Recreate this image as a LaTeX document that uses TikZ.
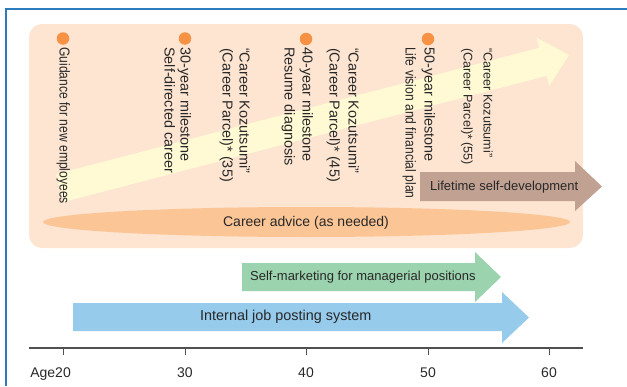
\documentclass[tikz,border=0pt]{standalone}
\usepackage{fontspec}
\setmainfont{Liberation Sans}
\newfontfamily\narrowfont{Liberation Sans}[FakeStretch=0.84]
\definecolor{framecol}{RGB}{44,124,188}
\definecolor{peach}{RGB}{253,229,210}
\definecolor{paleyellow}{RGB}{255,249,212}
\definecolor{dotorange}{RGB}{247,146,68}
\definecolor{ellorange}{RGB}{251,197,150}
\definecolor{taupe}{RGB}{192,161,146}
\definecolor{mint}{RGB}{155,211,174}
\definecolor{skyblue}{RGB}{150,203,236}
\definecolor{textgray}{RGB}{40,40,40}
\definecolor{axisgray}{RGB}{80,80,80}
\begin{document}
\begin{tikzpicture}[x=1pt,y=-1pt,
  txt/.style={inner sep=0pt, text=textgray, font=\fontsize{14}{17}\selectfont},
  vtxt/.style={txt, rotate=-90, anchor=west, text height=10pt, text depth=3pt, font=\fontsize{14.4}{17}\selectfont},
  stxt/.style={vtxt, font=\fontsize{12.6}{15}\selectfont},
  ntxt/.style={vtxt, font=\fontsize{14.4}{17}\selectfont\narrowfont},
  htxt/.style={txt, text height=10pt, text depth=3pt},
  dotmark/.style={circle, fill=dotorange, minimum size=12.5pt, inner sep=0pt},
  ticklbl/.style={txt, anchor=base}]
\useasboundingbox (0,0) rectangle (627,386);
% frame
\draw[framecol, line width=2pt] (6,386) -- (6,9) -- (627,9);
% peach background
\fill[peach, rounded corners=13pt] (29,24) rectangle (583,248);
% big yellow arrow
\fill[paleyellow] (56.33,173.97) -- (539.23,47.77) -- (536.58,37.61) -- (569,55)
  -- (549.22,86.0) -- (546.57,75.83) -- (63.67,202.03) -- cycle;
% career advice ellipse
\fill[ellorange] (306.5,222) ellipse [x radius=263.5pt, y radius=15pt];
\node[htxt] (advice) at (306,223) {Career advice (as needed)};
% lifetime arrow
\fill[taupe] (420,172) -- (575,172) -- (575,161) -- (602,186.5) -- (575,211) -- (575,201) -- (420,201) -- cycle;
\node[htxt, anchor=west, font=\fontsize{13}{16}\selectfont] (life) at (430,187) {Lifetime self-development};
% green arrow
\fill[mint] (242,263) -- (475,263) -- (475,252) -- (501,277) -- (475,302) -- (475,291) -- (242,291) -- cycle;
\node[htxt, anchor=west, font=\fontsize{13}{16}\selectfont] (selfm) at (250,277) {Self-marketing for managerial positions};
% blue arrow
\fill[skyblue] (73,303) -- (502,303) -- (502,292) -- (529,317.5) -- (502,343) -- (502,331) -- (73,331) -- cycle;
\node[htxt, anchor=west, font=\fontsize{14.4}{17}\selectfont] (ijp) at (200,317) {Internal job posting system};
% dots
\node[dotmark] (d20) at (63,38.5) {};
\node[dotmark] (d30) at (185,38.5) {};
\node[dotmark] (d40) at (306,39) {};
\node[dotmark] (d50) at (428,39) {};
% vertical texts
\node[ntxt] (g1) at (63,47) {Guidance for new employees};
\node[vtxt] (m30a) at (184,47) {30-year milestone};
\node[vtxt] (m30b) at (168,47) {Self-directed career};
\node[vtxt] (k35a) at (243,48) {“Career Kozutsumi”};
\node[vtxt] (k35b) at (226,48) {(Career Parcel)* (35)};
\node[vtxt] (m40a) at (306,47) {40-year milestone};
\node[vtxt] (m40b) at (288,47) {Resume diagnosis};
\node[vtxt] (k45a) at (352,48) {“Career Kozutsumi”};
\node[vtxt] (k45b) at (333,48) {(Career Parcel)* (45)};
\node[vtxt] (m50a) at (428,47) {50-year milestone};
\node[ntxt] (m50b) at (409,47) {Life vision and financial plan};
\node[stxt] (k55a) at (487,48) {“Career Kozutsumi”};
\node[stxt] (k55b) at (467,48) {(Career Parcel)* (55)};
% axis
\draw[axisgray, line width=1.1pt] (29,348) -- (583,348);
\foreach \x in {63,185,306,428,549} \draw[axisgray, line width=1pt] (\x,348) -- (\x,355);
\node[ticklbl, anchor=base east] (t20) at (71,377) {Age20};
\node[ticklbl] (t30) at (185,377) {30};
\node[ticklbl] (t40) at (306,377) {40};
\node[ticklbl] (t50) at (428,377) {50};
\node[ticklbl] (t60) at (549,377) {60};
\end{tikzpicture}
\end{document}
